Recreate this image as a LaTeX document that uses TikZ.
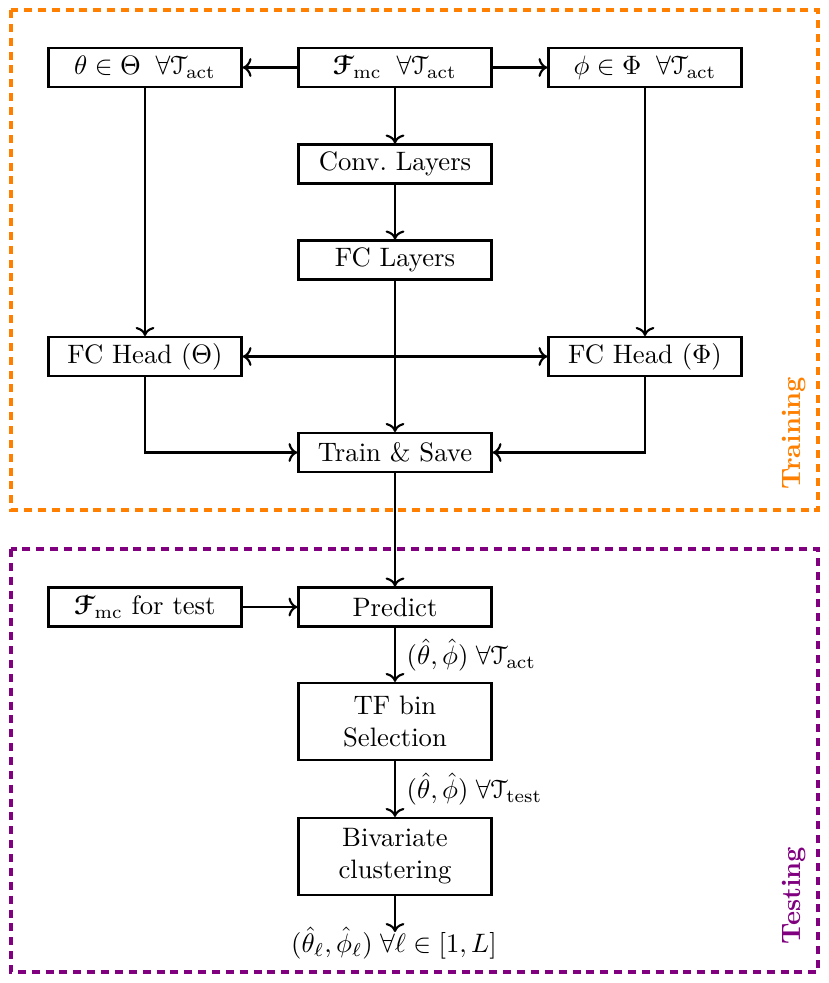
\documentclass[tikz,border=0pt]{standalone}
\usepackage{amsmath,amssymb}
\usepackage[mathcal]{eucal}
\usepackage{bm}
\usetikzlibrary{arrows.meta}
\definecolor{trainC}{RGB}{255,128,0}
\definecolor{testC}{RGB}{128,0,128}
\begin{document}
\begin{tikzpicture}[x=0.375pt,y=-0.375pt,
  blk/.style={draw,thick,minimum width=72.4pt,minimum height=14.6pt,inner sep=1pt,align=center},
  blk2/.style={blk,minimum height=28.9pt},
  conn/.style={thick,->},
  region/.style={line width=1.2pt,dash pattern=on 3pt off 2.2pt},
  elab/.style={right,inner sep=1pt,xshift=3pt}]
\useasboundingbox (0,0) rectangle (829,983);
% regions
\draw[region,trainC] (11,10) rectangle (818,510);
\draw[region,testC] (11,549) rectangle (818,972);
\node[trainC,rotate=90,anchor=south west,font=\bfseries,inner sep=0pt] (trl) at (806,490) {Training};
\node[testC,rotate=90,anchor=south west,font=\bfseries,inner sep=0pt] (tsl) at (806,945) {Testing};
% nodes
\node[blk] (theta) at (145,67.5) {$\theta\in\Theta\;\;\forall\mathcal{T}_{\mathrm{act}}$};
\node[blk] (F) at (395,67.5) {$\bm{\mathcal{F}}_{\mathrm{mc}}\;\;\forall\mathcal{T}_{\mathrm{act}}$};
\node[blk] (phi) at (645,67.5) {$\phi\in\Phi\;\;\forall\mathcal{T}_{\mathrm{act}}$};
\node[blk] (conv) at (395,164) {Conv.\ Layers};
\node[blk] (fcl) at (395,260) {FC Layers};
\node[blk] (headT) at (145,356.5) {FC Head ($\Theta$)};
\node[blk] (headP) at (645,356.5) {FC Head ($\Phi$)};
\node[blk] (train) at (395,452.5) {Train \& Save};
\node[blk] (predict) at (395,607) {Predict};
\node[blk] (ftest) at (145,607) {$\bm{\mathcal{F}}_{\mathrm{mc}}$ for test};
\node[blk2] (tf) at (395,721.5) {TF bin\\Selection};
\node[blk2] (biv) at (395,856.5) {Bivariate\\clustering};
\node[inner sep=1pt] (out) at (394,943) {$(\hat{\theta}_\ell,\hat{\phi}_\ell)\;\forall\ell\in[1,L]$};
\coordinate (outtop) at (395,932);
% connectors
\draw[conn] (F) -- (theta);
\draw[conn] (F) -- (phi);
\draw[conn] (F) -- (conv);
\draw[conn] (conv) -- (fcl);
\draw[conn] (fcl) -- (train);
\draw[conn] (theta) -- (headT);
\draw[conn] (phi) -- (headP);
\draw[thick,<->] (headT) -- (headP);
\draw[conn] (headT.south) |- (train.west);
\draw[conn] (headP.south) |- (train.east);
\draw[conn] (train) -- (predict);
\draw[conn] (ftest) -- (predict);
\draw[conn] (predict) -- node[elab] {$(\hat{\theta},\hat{\phi})\;\forall\mathcal{T}_{\mathrm{act}}$} (tf);
\draw[conn] (tf) -- node[elab] {$(\hat{\theta},\hat{\phi})\;\forall\mathcal{T}_{\mathrm{test}}$} (biv);
\draw[conn] (biv) -- (outtop);
\end{tikzpicture}
\end{document}
